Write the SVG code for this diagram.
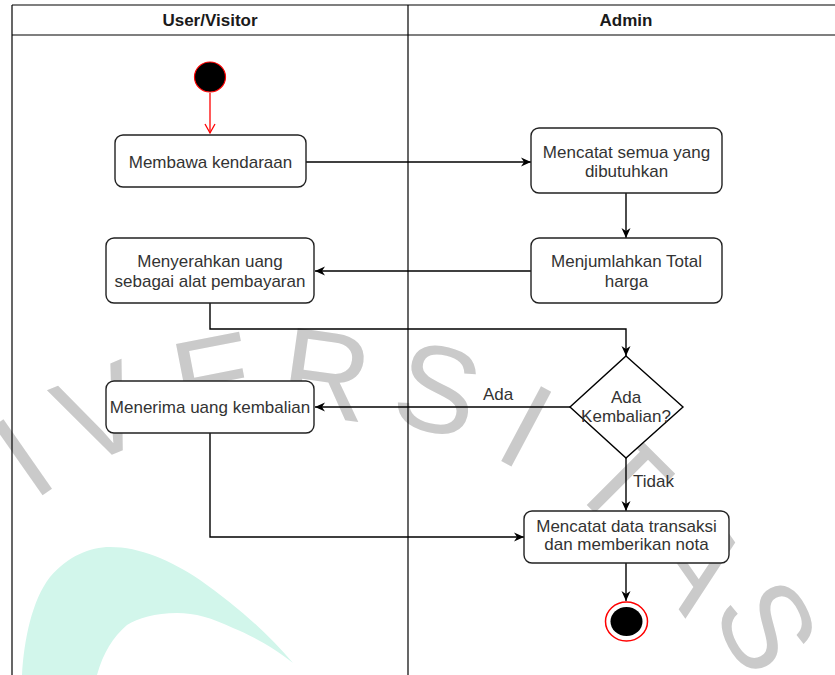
<svg xmlns="http://www.w3.org/2000/svg" width="835" height="675" viewBox="0 0 835 675">
<style>
.wm { font-family: "Liberation Sans", Arial, sans-serif; font-size: 123px; fill: #cacaca; text-anchor: middle; }
.hdr { font-family: "Liberation Sans", Arial, sans-serif; font-size: 17px; font-weight: bold; fill: #1a1a1a; text-anchor: middle; }
.lbl { font-family: "Liberation Sans", Arial, sans-serif; font-size: 17px; fill: #333; text-anchor: middle; }
.elbl { font-family: "Liberation Sans", Arial, sans-serif; font-size: 17px; fill: #333; }
.box { fill: #fff; stroke: #222; stroke-width: 1.4; }
.lane { fill: none; stroke: #000; stroke-width: 1.2; }
.edge { fill: none; stroke: #000; stroke-width: 1.4; }
</style>
<defs>
<marker id="arr" markerUnits="userSpaceOnUse" markerWidth="12" markerHeight="10" refX="10" refY="5" orient="auto">
<path d="M0,0.5 L10,5 L0,9.5 L3,5 Z" fill="#000"/>
</marker>
<marker id="open" markerUnits="userSpaceOnUse" markerWidth="12" markerHeight="12" refX="10" refY="6" orient="auto">
<path d="M1,1 L10,6 L1,11" fill="none" stroke="#f00" stroke-width="1.3"/>
</marker>
</defs>
<rect x="0" y="0" width="835" height="675" fill="#fff"/>

<g id="watermark">
<path d="M22,675 C24,640 32,600 50,577 C68,556 90,547 110,547 C140,547 170,560 200,580 C235,605 265,630 293,663 C270,645 250,635 233,628 C212,618 195,613 177,613 C155,613 138,618 127,625 C113,637 103,653 97,675 Z" fill="#d2f6eb"/>
<text class="wm" transform="translate(22,456) rotate(-35)" y="44">I</text>
<text class="wm" transform="translate(100,412) rotate(-23)" y="44">V</text>
<text class="wm" transform="translate(214,378) rotate(-11)" y="44">E</text>
<text class="wm" transform="translate(326,373) rotate(8)" y="44">R</text>
<text class="wm" transform="translate(438,388) rotate(14)" y="44">S</text>
<text class="wm" transform="translate(527,425) rotate(28)" y="44">I</text>
<text class="wm" transform="translate(622,478) rotate(45)" y="44">T</text>
<text class="wm" transform="translate(698,560) rotate(55)" y="44">A</text>
<text class="wm" transform="translate(768,625) rotate(62)" y="44">S</text>
</g>

<g id="lanes">
<line class="lane" x1="12" y1="5" x2="835" y2="5"/>
<line class="lane" x1="12" y1="35" x2="835" y2="35"/>
<line class="lane" x1="12" y1="5" x2="12" y2="675"/>
<line class="lane" x1="408" y1="5" x2="408" y2="675"/>
<text class="hdr" x="210" y="26">User/Visitor</text>
<text class="hdr" x="626" y="26">Admin</text>
</g>

<g id="connectors">
<line x1="210" y1="93" x2="210" y2="133" fill="none" stroke="#f00" stroke-width="1.3" marker-end="url(#open)"/>
<line class="edge" x1="306" y1="162" x2="531" y2="162" marker-end="url(#arr)"/>
<line class="edge" x1="626" y1="193" x2="626" y2="238" marker-end="url(#arr)"/>
<line class="edge" x1="531" y1="271" x2="315" y2="271" marker-end="url(#arr)"/>
<polyline class="edge" points="210,303 210,329 626,329 626,356" marker-end="url(#arr)"/>
<line class="edge" x1="570" y1="407" x2="315" y2="407" marker-end="url(#arr)"/>
<text class="elbl" x="498" y="400" text-anchor="middle">Ada</text>
<line class="edge" x1="626" y1="458" x2="626" y2="511" marker-end="url(#arr)"/>
<text class="elbl" x="633" y="487">Tidak</text>
<polyline class="edge" points="210,433 210,537 524,537" marker-end="url(#arr)"/>
<line class="edge" x1="626" y1="563" x2="626" y2="601" marker-end="url(#arr)"/>
</g>

<g id="start">
<ellipse cx="210" cy="77" rx="15.5" ry="15" fill="#000" stroke="#f00" stroke-width="1.2"/>
</g>
<g id="n1">
<rect class="box" x="115" y="135" width="191" height="52" rx="8"/>
<text class="lbl" x="210.5" y="168">Membawa kendaraan</text>
</g>
<g id="n2">
<rect class="box" x="531" y="128" width="191" height="65" rx="8"/>
<text class="lbl" x="626.5" y="158">Mencatat semua yang</text>
<text class="lbl" x="626.5" y="177">dibutuhkan</text>
</g>
<g id="n3">
<rect class="box" x="531" y="238" width="191" height="65" rx="8"/>
<text class="lbl" x="626.5" y="267">Menjumlahkan Total</text>
<text class="lbl" x="626.5" y="287">harga</text>
</g>
<g id="n4">
<rect class="box" x="106" y="238" width="208" height="65" rx="8"/>
<text class="lbl" x="210" y="267">Menyerahkan uang</text>
<text class="lbl" x="210" y="287">sebagai alat pembayaran</text>
</g>
<g id="d1">
<polygon points="626,356 683,407 626,458 570,407" fill="#fff" stroke="#000" stroke-width="1.4"/>
<text class="lbl" x="626" y="403">Ada</text>
<text class="lbl" x="626" y="422">Kembalian?</text>
</g>
<g id="n5">
<rect class="box" x="106" y="381" width="208" height="52" rx="8"/>
<text class="lbl" x="210" y="413">Menerima uang kembalian</text>
</g>
<g id="n6">
<rect class="box" x="524" y="511" width="205" height="52" rx="8"/>
<text class="lbl" x="626.5" y="532">Mencatat data transaksi</text>
<text class="lbl" x="626.5" y="550">dan memberikan nota</text>
</g>
<g id="end">
<ellipse cx="626.5" cy="621.5" rx="21" ry="19.5" fill="#fff" stroke="#f00" stroke-width="1.5"/>
<ellipse cx="626.5" cy="621.5" rx="16" ry="14.5" fill="#000"/>
</g>
</svg>
